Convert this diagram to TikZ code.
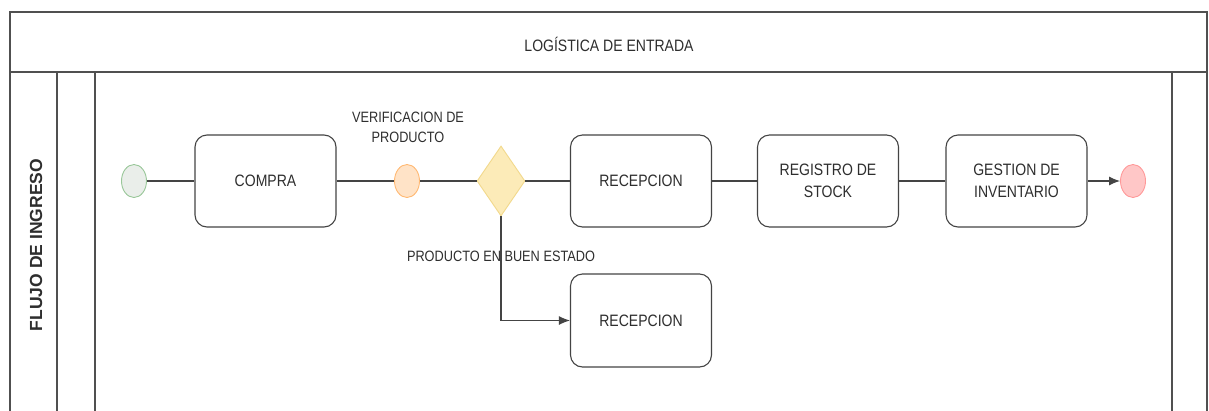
\documentclass[tikz,border=0pt]{standalone}
\usepackage{fontspec}
\setmainfont[FakeStretch=0.85]{Liberation Sans}
\newfontfamily\lanefont{Liberation Sans}
\usetikzlibrary{arrows.meta,shapes.geometric}
\definecolor{frameline}{HTML}{505050}
\definecolor{boxline}{HTML}{444444}
\definecolor{txt}{HTML}{2E2E2E}
\definecolor{gwfill}{HTML}{FCEBB8}
\definecolor{gwline}{HTML}{F2D98C}
\tikzset{
  taskbox/.style={draw=boxline, line width=1.1pt, rounded corners=12pt, fill=white,
    minimum width=141pt, minimum height=92pt, align=center, text=txt,
    font=\fontsize{16.5}{22}\selectfont, inner sep=0pt},
  evt/.style={ellipse, line width=0.9pt, minimum width=25pt, minimum height=33pt, inner sep=0pt},
  gate/.style={diamond, draw=gwline, fill=gwfill, line width=0.9pt,
    minimum width=48pt, minimum height=70pt, inner sep=0pt, aspect=0.7},
  flow/.style={draw=boxline, line width=1.1pt},
  flowarrow/.style={flow, -{Latex[length=11pt,width=9pt]}},
  lbl/.style={text=txt, align=center, font=\fontsize{15}{20}\selectfont, inner sep=0pt},
  lane/.style={draw=frameline, line width=1.2pt}
}
\begin{document}
\begin{tikzpicture}[x=1pt,y=-1pt]
\useasboundingbox (0,0) rectangle (1209,410);
\fill[white] (0,0) rectangle (1209,410);
\begin{scope}
\clip (0,0) rectangle (1209,410);
% pool frame
\draw[lane] (10,416) -- (10,12) -- (1207,12) -- (1207,416);
\draw[lane] (10,72) -- (1207,72);
\draw[lane] (57,72) -- (57,416);
\draw[lane] (95,72) -- (95,416);
\draw[lane] (1172,72) -- (1172,416);
\end{scope}
\node[font=\fontsize{16.5}{20}\selectfont, text=txt] (title) at (609,44) {LOGÍSTICA DE ENTRADA};
\node[rotate=90, font=\lanefont\bfseries\fontsize{17.5}{20}\selectfont, text=txt] (lanelbl) at (36,245) {FLUJO DE INGRESO};

% nodes
\node[evt, draw=green!45!black!40, fill=green!12!gray!15] (start) at (134,181) {};
\node[taskbox] (compra) at (265.5,181) {COMPRA};
\node[evt, draw=orange!55, fill=orange!22] (verif) at (407,181) {};
\node[gate] (gw) at (501,181) {};
\node[taskbox] (recep) at (641,181) {RECEPCION};
\node[taskbox] (registro) at (828,181) {REGISTRO DE\\STOCK};
\node[taskbox] (gestion) at (1016.5,181) {GESTION DE\\INVENTARIO};
\node[evt, draw=red!40, fill=red!22] (fin) at (1133,181) {};
\node[taskbox, minimum height=93pt] (recep2) at (641,320.5) {RECEPCION};

% labels
\node[lbl] (verlbl) at (408,127) {VERIFICACION DE\\PRODUCTO};

% connectors
\draw[flow] (start) -- (compra);
\draw[flow] (compra) -- (verif);
\draw[flow] (verif) -- (gw);
\draw[flow] (gw) -- (recep);
\draw[flow] (recep) -- (registro);
\draw[flow] (registro) -- (gestion);
\draw[flowarrow] (gestion) -- (fin);
\draw[flowarrow] (gw.south) |- (recep2.west);
\node[lbl] (buenlbl) at (501,256) {PRODUCTO EN BUEN ESTADO};
\end{tikzpicture}
\end{document}
